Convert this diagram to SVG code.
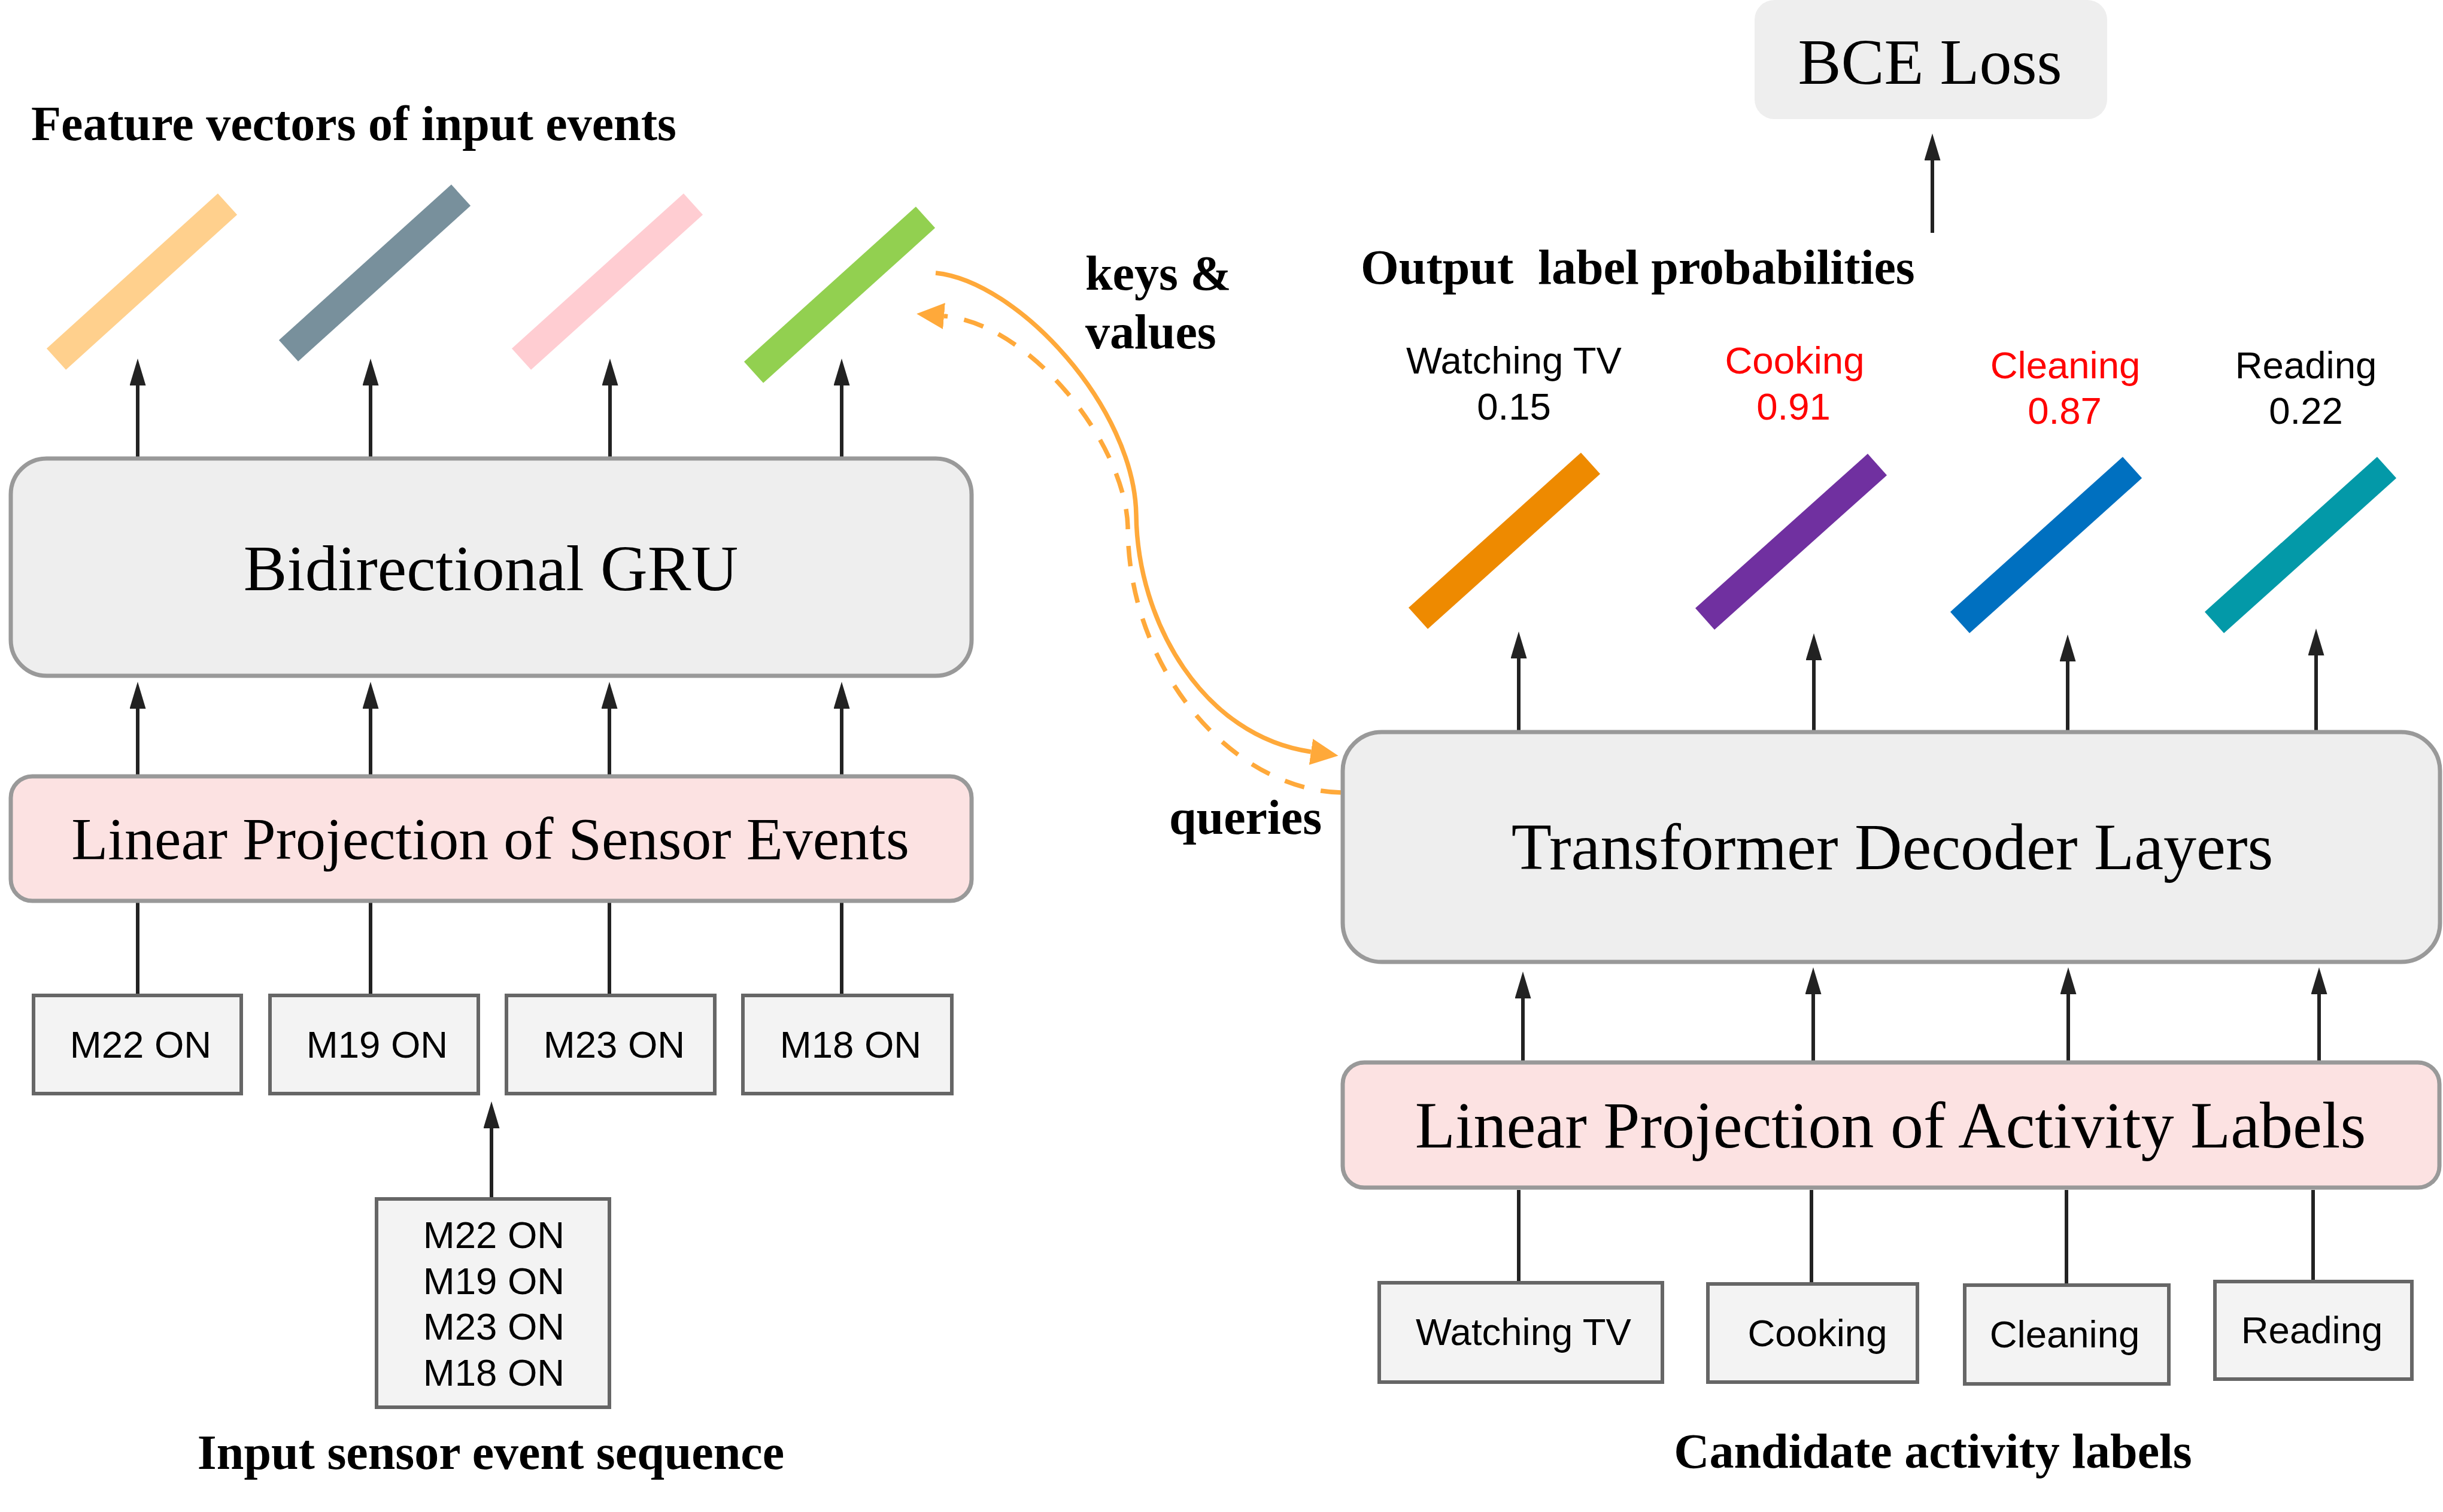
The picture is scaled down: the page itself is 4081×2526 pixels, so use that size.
<svg xmlns="http://www.w3.org/2000/svg" width="4081" height="2526" viewBox="0 0 4081 2526">
<style>
.serif{font-family:"Liberation Serif","Times New Roman",serif;fill:#000}
.bold{font-weight:bold;font-size:82px}
.sans{font-family:"Liberation Sans",Arial,sans-serif;font-size:63.5px;fill:#000}
.red{fill:#FF0000}
.mid{text-anchor:middle}
.gbox{fill:#EEEEEE;stroke:#999999;stroke-width:7}
.pbox{fill:#FCE2E2;stroke:#999999;stroke-width:7}
.sbox{fill:#F3F3F3;stroke:#666666;stroke-width:6}
.conn{fill:none;stroke:#222222;stroke-width:6}
.arr{marker-end:url(#ah)}
.orange{fill:none;stroke:#FFA93A;stroke-width:7.5;marker-end:url(#oh)}
.bar{fill:none;stroke-width:48;stroke-linecap:butt}
</style>
<defs>
<marker id="ah" markerUnits="userSpaceOnUse" viewBox="0 0 45 27" markerWidth="45" markerHeight="27" refX="0" refY="13.5" orient="auto"><path d="M0,0 L45,13.5 L0,27 z" fill="#222222"/></marker>
<marker id="oh" markerUnits="userSpaceOnUse" viewBox="0 0 46 44" markerWidth="46" markerHeight="44" refX="0" refY="22" orient="auto"><path d="M0,0 L46,22 L0,44 z" fill="#FFA93A"/></marker>
</defs>
<rect width="4081" height="2526" fill="#FFFFFF"/>
<g id="connectors">
<path class="conn arr" d="M230,763 V644"/>
<path class="conn arr" d="M619,763 V644"/>
<path class="conn arr" d="M1019,763 V644"/>
<path class="conn arr" d="M1406,763 V644"/>
<path class="conn arr" d="M230,1294 V1184"/>
<path class="conn arr" d="M619,1294 V1184"/>
<path class="conn arr" d="M1018,1294 V1184"/>
<path class="conn arr" d="M1406,1294 V1184"/>
<path class="conn" d="M230,1660 V1508"/>
<path class="conn" d="M619,1660 V1508"/>
<path class="conn" d="M1018,1660 V1508"/>
<path class="conn" d="M1406,1660 V1508"/>
<path class="conn arr" d="M821,2000 V1885"/>
<path class="conn arr" d="M3228,389 V268"/>
<path class="conn arr" d="M2537,1220 V1100"/>
<path class="conn arr" d="M3030,1220 V1103"/>
<path class="conn arr" d="M3454,1220 V1105"/>
<path class="conn arr" d="M3869,1220 V1095"/>
<path class="conn arr" d="M2544,1772 V1668"/>
<path class="conn arr" d="M3029,1772 V1661"/>
<path class="conn arr" d="M3455,1772 V1661"/>
<path class="conn arr" d="M3874,1772 V1661"/>
<path class="conn" d="M2537,2140 V1988"/>
<path class="conn" d="M3026,2142 V1988"/>
<path class="conn" d="M3452,2144 V1988"/>
<path class="conn" d="M3864,2138 V1988"/>
<path class="orange" d="M1563,456 C1700,470 1895,680 1898,860 C1900,1040 2010,1230 2190,1256"/>
<path class="orange" stroke-dasharray="34 28" d="M2240,1324 C2060,1320 1884,1120 1884,880 C1880,740 1720,540 1577,528"/>
</g>
<g id="feature-vectors">
<line class="bar" x1="94" y1="600" x2="380" y2="341" stroke="#FFD08D"/>
<line class="bar" x1="482" y1="586" x2="770" y2="326" stroke="#78909C"/>
<line class="bar" x1="871" y1="600" x2="1158" y2="341" stroke="#FFCDD2"/>
<line class="bar" x1="1259" y1="622" x2="1546" y2="363" stroke="#92D050"/>
</g>
<g id="output-vectors">
<line class="bar" x1="2369" y1="1033" x2="2657" y2="774" stroke="#EE8A00"/>
<line class="bar" x1="2848" y1="1034" x2="3136" y2="776" stroke="#7030A0"/>
<line class="bar" x1="3274" y1="1040" x2="3562" y2="781" stroke="#0070C0"/>
<line class="bar" x1="3699" y1="1040" x2="3987" y2="781" stroke="#0399A8"/>
</g>
<g id="gru">
<rect class="gbox" x="18" y="766" width="1605" height="363" rx="60" ry="60"/>
<text class="serif mid" x="820" y="986" font-size="109">Bidirectional GRU</text>
</g>
<g id="sensor-projection">
<rect class="pbox" x="18" y="1297" width="1605" height="208" rx="36" ry="36"/>
<text class="serif mid" x="819" y="1435" font-size="100">Linear Projection of Sensor Events</text>
</g>
<g id="sensor-m22">
<rect class="sbox" x="56" y="1663" width="347" height="164"/>
<text class="sans mid" x="235" y="1767">M22 ON</text>
</g>
<g id="sensor-m19">
<rect class="sbox" x="451" y="1663" width="348" height="164"/>
<text class="sans mid" x="630" y="1767">M19 ON</text>
</g>
<g id="sensor-m23">
<rect class="sbox" x="846" y="1663" width="348" height="164"/>
<text class="sans mid" x="1026" y="1767">M23 ON</text>
</g>
<g id="sensor-m18">
<rect class="sbox" x="1241" y="1663" width="349" height="164"/>
<text class="sans mid" x="1421" y="1767">M18 ON</text>
</g>
<g id="sensor-sequence">
<rect class="sbox" x="629" y="2003" width="389" height="348"/>
<text class="sans mid" x="825" y="2085">M22 ON</text>
<text class="sans mid" x="825" y="2162">M19 ON</text>
<text class="sans mid" x="825" y="2238">M23 ON</text>
<text class="sans mid" x="825" y="2315">M18 ON</text>
</g>
<g id="bce-loss">
<rect x="2931" y="0" width="589" height="199" rx="33" ry="33" fill="#EEEEEE"/>
<text class="serif mid" x="3224" y="140" font-size="108">BCE Loss</text>
</g>
<g id="transformer">
<rect class="gbox" x="2243" y="1223" width="1833" height="384" rx="65" ry="65"/>
<text class="serif mid" x="3161" y="1452" font-size="110">Transformer Decoder Layers</text>
</g>
<g id="activity-projection">
<rect class="pbox" x="2243" y="1775" width="1832" height="209" rx="36" ry="36"/>
<text class="serif mid" x="3158" y="1917" font-size="110">Linear Projection of Activity Labels</text>
</g>
<g id="label-watching">
<rect class="sbox" x="2304" y="2143" width="473" height="166"/>
<text class="sans mid" x="2545" y="2247">Watching TV</text>
</g>
<g id="label-cooking">
<rect class="sbox" x="2853" y="2145" width="350" height="164"/>
<text class="sans mid" x="3036" y="2249">Cooking</text>
</g>
<g id="label-cleaning">
<rect class="sbox" x="3282" y="2147" width="341" height="165"/>
<text class="sans mid" x="3449" y="2251">Cleaning</text>
</g>
<g id="label-reading">
<rect class="sbox" x="3700" y="2141" width="329" height="163"/>
<text class="sans mid" x="3862" y="2244">Reading</text>
</g>
<g id="probabilities">
<text class="sans mid" x="2529" y="624">Watching TV</text>
<text class="sans mid" x="2529" y="701">0.15</text>
<text class="sans mid red" x="2998" y="624">Cooking</text>
<text class="sans mid red" x="2996" y="701">0.91</text>
<text class="sans mid red" x="3450" y="632">Cleaning</text>
<text class="sans mid red" x="3449" y="708">0.87</text>
<text class="sans mid" x="3852" y="632">Reading</text>
<text class="sans mid" x="3852" y="708">0.22</text>
</g>
<g id="captions">
<text class="serif bold" x="52" y="234">Feature vectors of input events</text>
<text class="serif bold mid" x="820" y="2454">Input sensor event sequence</text>
<text class="serif bold mid" x="3229" y="2452">Candidate activity labels</text>
<text class="serif bold" x="2273" y="474" xml:space="preserve">Output  label probabilities</text>
<text class="serif bold" x="1813" y="484">keys &amp;</text>
<text class="serif bold" x="1813" y="582">values</text>
<text class="serif bold" x="1953" y="1393">queries</text>
</g>
</svg>
